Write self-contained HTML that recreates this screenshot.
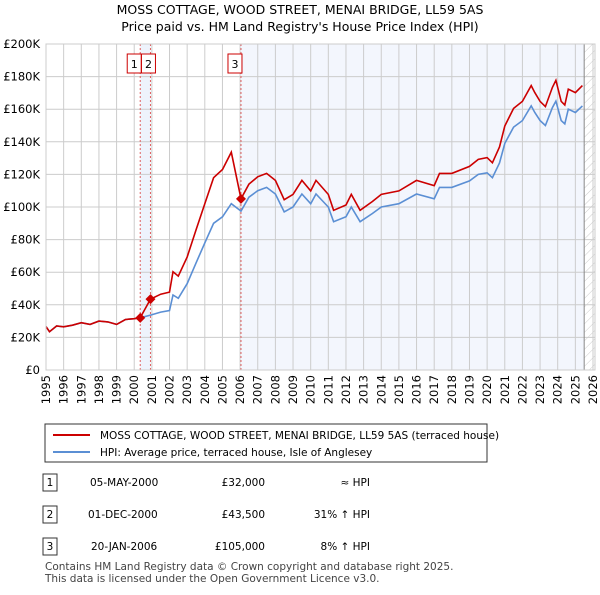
<!DOCTYPE html>
<html><head><meta charset="utf-8"><style>
body{margin:0;background:#fff;font-family:"Liberation Sans","DejaVu Sans",sans-serif;}
svg text{font-family:"DejaVu Sans","Liberation Sans",sans-serif;}
</style></head><body>
<svg width="600" height="590" xmlns="http://www.w3.org/2000/svg" id="c">
<defs><pattern id="hatch" width="6" height="6" patternUnits="userSpaceOnUse" patternTransform="rotate(45)"><line x1="0" y1="0" x2="0" y2="6" stroke="#ccc" stroke-width="1"/></pattern></defs>
<text x="300" y="14" text-anchor="middle" font-size="12.5">MOSS COTTAGE, WOOD STREET, MENAI BRIDGE, LL59 5AS</text>
<text x="300" y="31" text-anchor="middle" font-size="12.5">Price paid vs. HM Land Registry's House Price Index (HPI)</text>
<g id="plot"></g>
<rect x="45" y="424" width="442" height="38" fill="#fff" stroke="#333"/>
<line x1="53" y1="435" x2="90" y2="435" stroke="#cc0000" stroke-width="2"/>
<text x="100" y="439" font-size="10.5">MOSS COTTAGE, WOOD STREET, MENAI BRIDGE, LL59 5AS (terraced house)</text>
<line x1="53" y1="452" x2="90" y2="452" stroke="#5b8fd4" stroke-width="2"/>
<text x="100" y="456" font-size="10.5">HPI: Average price, terraced house, Isle of Anglesey</text>
<g font-size="10.5">
<rect x="43" y="474" width="14" height="17" fill="#fff" stroke="#333"/><text x="50" y="486" text-anchor="middle">1</text>
<text x="90" y="486">05-MAY-2000</text><text x="265" y="486" text-anchor="end">£32,000</text><text x="370" y="486" text-anchor="end">≈ HPI</text>
<rect x="43" y="506" width="14" height="17" fill="#fff" stroke="#333"/><text x="50" y="518" text-anchor="middle">2</text>
<text x="88" y="518">01-DEC-2000</text><text x="265" y="518" text-anchor="end">£43,500</text><text x="370" y="518" text-anchor="end">31% ↑ HPI</text>
<rect x="43" y="538" width="14" height="17" fill="#fff" stroke="#333"/><text x="50" y="550" text-anchor="middle">3</text>
<text x="91" y="550">20-JAN-2006</text><text x="265" y="550" text-anchor="end">£105,000</text><text x="370" y="550" text-anchor="end">8% ↑ HPI</text>
</g>
<text x="45" y="570" font-size="10.5" fill="#444">Contains HM Land Registry data © Crown copyright and database right 2025.</text>
<text x="45" y="582" font-size="10.5" fill="#444">This data is licensed under the Open Government Licence v3.0.</text>
</svg>
<script>
const dates=[1995,1995.2,1995.6,1996,1996.5,1997,1997.5,1998,1998.5,1999,1999.5,2000,2000.34,2000.92,2001.5,2002,2002.2,2002.5,2003,2003.5,2004,2004.5,2005,2005.5,2006.05,2006.5,2007,2007.5,2008,2008.5,2009,2009.5,2010,2010.3,2011,2011.3,2012,2012.3,2012.8,2013.5,2014,2015,2016,2017,2017.3,2018,2019,2019.5,2020,2020.3,2020.7,2021,2021.5,2022,2022.5,2022.7,2023,2023.3,2023.7,2023.9,2024.2,2024.4,2024.6,2025,2025.4];
const hpi=[26.6,23.5,27,26.5,27.5,29,28,30,29.5,28,31,31.5,32,33.7,35.5,36.5,46,44,53,65.6,78,90,94,102,97.5,106,110,112,108,97,100,108,102,108,100,91,94,100,91,96,100,102,108,105,112,112,116,120,121,118,127,139,149,153,162,158,153,150,161,165,153,151,160,158,162];
const price=[26.6,23.5,27,26.5,27.5,29,28,30,29.5,28,31,31.5,32,43.5,46.5,47.8,60.3,57.6,69.4,85.9,102,118,123,133.6,105,114,118.5,120.6,116.3,104.5,107.7,116.3,109.9,116.3,107.7,98,101.2,107.7,98,103.4,107.7,109.9,116.3,113.1,120.6,120.6,124.9,129.2,130.3,127.1,136.8,149.7,160.5,164.8,174.5,170.2,164.8,161.6,173.4,177.7,164.8,162.6,172.3,170.2,174.5];
const saleDates=[2000.34,2000.92,2006.05];
const salePrices=[32,43.5,105];
const yTicks=[0,20,40,60,80,100,120,140,160,180,200];
const yLabels=["£0","£20K","£40K","£60K","£80K","£100K","£120K","£140K","£160K","£180K","£200K"];
const xYears=[1995,1996,1997,1998,1999,2000,2001,2002,2003,2004,2005,2006,2007,2008,2009,2010,2011,2012,2013,2014,2015,2016,2017,2018,2019,2020,2021,2022,2023,2024,2025,2026];
const X0=46,X1=593,Y0=370,Y1=44;
const xs=t=>X0+(t-1995)/(2026-1995)*(X1-X0);
const ys=v=>Y0-v/200*(Y0-Y1);
const NS="http://www.w3.org/2000/svg";
const g=document.getElementById('plot');
function mk(tag,attrs,parent){const e=document.createElementNS(NS,tag);for(const k in attrs)e.setAttribute(k,attrs[k]);(parent||g).appendChild(e);return e;}
let e;
e=mk('rect',{x:xs(saleDates[0]),y:Y1,width:xs(saleDates[1])-xs(saleDates[0]),height:Y0-Y1,fill:'#eef3fc'});


e=mk('rect',{x:xs(saleDates[2]),y:Y1,width:xs(2025.5)-xs(saleDates[2]),height:Y0-Y1,fill:'#f3f6fd'});


e=mk('rect',{x:xs(2025.5),y:Y1,width:X1+2-xs(2025.5),height:Y0-Y1,fill:'url(#hatch)'});


yTicks.forEach((v,i)=>{
 e=mk('line',{x1:X0,x2:X1+2,y1:ys(v),y2:ys(v),stroke:'#ccc','stroke-width':1});
 
 
 e=mk('text',{x:40,y:ys(v)+4,'text-anchor':'end','font-size':'11.5'});e.textContent=yLabels[i];
 
 
});
xYears.forEach(yr=>{
 e=mk('line',{x1:xs(yr),x2:xs(yr),y1:Y1,y2:Y0,stroke:'#ccc','stroke-width':1});
 
 
 const tx=xs(yr)+4,ty=Y0+5;
 e=mk('text',{x:tx,y:ty,'text-anchor':'end','font-size':'11.5',transform:`rotate(-90 ${tx} ${ty})`});e.textContent=yr;
 
 
});
e=mk('line',{x1:xs(2025.5),x2:xs(2025.5),y1:Y1,y2:Y0,stroke:'#888','stroke-width':1});


saleDates.forEach((d,i)=>{
 e=mk('line',{x1:xs(d),x2:xs(d),y1:Y1,y2:Y0,stroke:'#e06060','stroke-width':1,'stroke-dasharray':'2,2'});
 
 
});
const toPts=a=>a.map((v,i)=>xs(dates[i]).toFixed(1)+','+ys(v).toFixed(1)).join(' ');
e=mk('polyline',{points:toPts(hpi),fill:'none',stroke:'#5b8fd4','stroke-width':1.6});


e=mk('polyline',{points:toPts(price),fill:'none',stroke:'#cc0000','stroke-width':1.6});


saleDates.forEach((d,i)=>{
 const cx=xs(d),cy=ys(salePrices[i]);
 e=mk('polygon',{points:`${cx},${cy-5} ${cx+5},${cy} ${cx},${cy+5} ${cx-5},${cy}`,fill:'#cc0000'});
 
 
});
const boxX=[xs(saleDates[0])-7,xs(saleDates[1])-3,xs(saleDates[2])-7];
boxX.forEach((bx,i)=>{
 e=mk('rect',{x:bx-6,y:54,width:14,height:19,fill:'#fff',stroke:'#cc0000'});
 
 
 e=mk('text',{x:bx+1,y:68,'text-anchor':'middle','font-size':'11'});e.textContent=String(i+1);
 
 
});
e=mk('rect',{x:X0,y:Y1,width:X1+2-X0,height:Y0-Y1,fill:'none',stroke:'#ccc'});


</script>
</body></html>
